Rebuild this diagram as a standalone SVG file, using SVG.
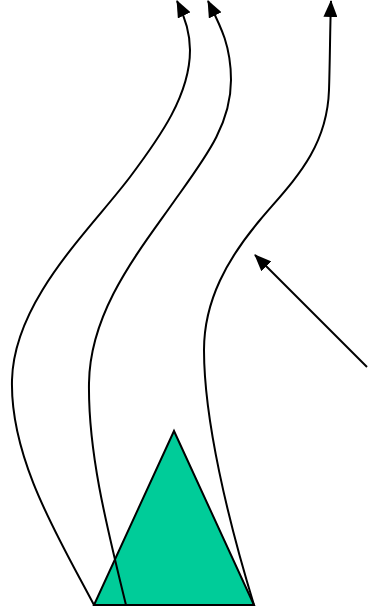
<svg xmlns="http://www.w3.org/2000/svg" width="368" height="610" viewBox="0 0 368 610">
<style>
.c{fill:none;stroke:#000;stroke-width:2;marker-end:url(#ah)}
.tri{fill:#00CC99;stroke:#000;stroke-width:2;stroke-linejoin:miter}
</style>
<defs>
<marker id="ah" markerUnits="userSpaceOnUse" viewBox="0 0 17 14" markerWidth="17" markerHeight="14" refX="16" refY="7" orient="auto">
<path d="M0,0 L17,7 L0,14 z" fill="#000"/>
</marker>
</defs>
<g id="triangle">
<polygon class="tri" points="94,605 174,431 254,605"/>
</g>
<g id="connectors">
<path class="c" d="M94,605 C60,540 10,460 12,380 C14,300 90,230 130,177 C160,137 190,95 190,50 C190,30 184,15 177,1"/>
<path class="c" d="M126,605 C105,520 88,450 89,383 C90,310 140,250 175,200 C205,158 231,125 231,80 C231,45 220,25 208,1"/>
<path class="c" d="M254,605 C228,520 204,420 204,350 C204,300 228,258 260,220 C292,182 327,150 329,90 C330,60 330,30 331,1"/>
<path class="c" d="M367,367 L255,255"/>
</g>
</svg>
